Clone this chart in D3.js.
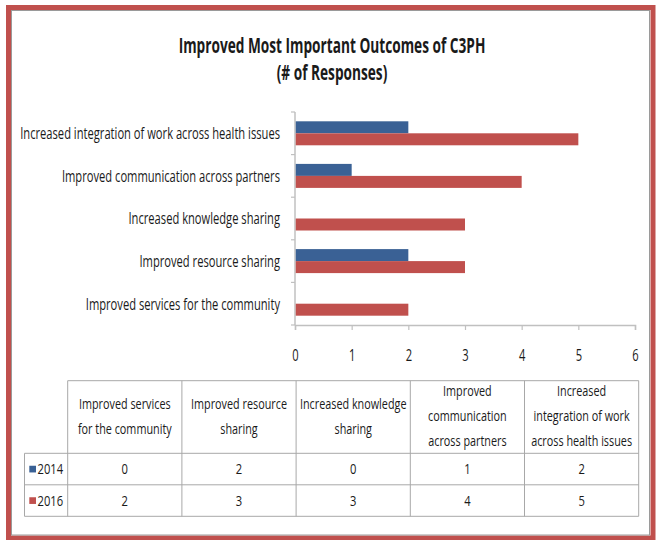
<!DOCTYPE html>
<html><head><meta charset="utf-8">
<script src="https://cdn.jsdelivr.net/npm/d3@7"></script>
<style>
html,body{margin:0;padding:0;background:#fff;}
svg{display:block;}
text{font-family:"Open Sans","Noto Sans",sans-serif;fill:#1a1a1a;font-weight:500;}
text.title{font-weight:700;}
</style></head>
<body>
<svg id="c" width="656" height="540"></svg>
<script>
// ---- data ----
const categories = ["Improved services for the community","Improved resource sharing","Increased knowledge sharing","Improved communication across partners","Increased integration of work across health issues"];
const seriesNames = ["2014","2016"];
const values2014 = [0,2,0,1,2];
const values2016 = [2,3,3,4,5];
const xTicks = [0,1,2,3,4,5,6];
const titleLines = ["Improved Most Important Outcomes of C3PH","(# of Responses)"];
const tableHeaders = [["Improved services","for the community"],["Improved resource","sharing"],["Increased knowledge","sharing"],["Improved","communication","across partners"],["Increased","integration of work","across health issues"]];
const colors = {"2014":"#3a6195","2016":"#c0504d"};

const svg = d3.select("#c");

// frame
svg.append("rect").attr("x",0).attr("y",0).attr("width",656).attr("height",540).attr("fill","#fff");
svg.append("rect").attr("x",8.5).attr("y",7.5).attr("width",644.5).attr("height",530.5)
  .attr("fill","none").attr("stroke","#c0504d").attr("stroke-width",5);
svg.append("rect").attr("x",11.5).attr("y",10.5).attr("width",638).attr("height",524.5)
  .attr("fill","none").attr("stroke","#9a9a9a").attr("stroke-width",1);

// horizontal condensing helper: keeps glyph height, narrows width by factor f
function squeeze(sel, f){
  sel.each(function(){
    const t = d3.select(this);
    const x = +t.attr("x") || 0, y = +t.attr("y") || 0;
    t.attr("x",0).attr("y",0).attr("transform",`translate(${x},${y}) scale(${f},1)`);
  });
}
function factorFor(node, target){ return target/node.getComputedTextLength(); }

// title
const titleSize = 20.5;
const t1 = svg.append("text").attr("class","title").attr("x",332).attr("y",52.5).attr("text-anchor","middle").style("font-size",titleSize+"px").text(titleLines[0]);
const t2 = svg.append("text").attr("class","title").attr("x",332).attr("y",79.5).attr("text-anchor","middle").style("font-size",titleSize+"px").text(titleLines[1]);
const tf = factorFor(t1.node(), 307);
squeeze(t1, tf); squeeze(t2, tf);

// scales
const x = d3.scaleLinear().domain([0,6]).range([295,635]);
const y0 = d3.scaleBand().domain(categories.slice().reverse()).range([112,325]).padding(0);
const y1 = d3.scaleBand().domain(seriesNames).range([0,y0.bandwidth()]).paddingInner(0).paddingOuter(0.775);

const rows = categories.map((c,i)=>({cat:c, vals:[{s:"2014",v:values2014[i]},{s:"2016",v:values2016[i]}]}));

const axisColor = "#c0c0c0";
svg.append("line").attr("x1",x(0)).attr("x2",x(0)).attr("y1",y0.range()[0]).attr("y2",y0.range()[1]).attr("stroke",axisColor).attr("stroke-width",1.5);
const bandEdges = y0.domain().map(d=>y0(d)).concat([y0.range()[1]]);
svg.selectAll(".yt").data(bandEdges).join("line").attr("x1",x(0)-4).attr("x2",x(0)).attr("y1",d=>d).attr("y2",d=>d).attr("stroke",axisColor).attr("stroke-width",1.2);

// bars
const g = svg.selectAll(".grp").data(rows).join("g").attr("transform",d=>`translate(0,${y0(d.cat)})`);
g.selectAll("rect").data(d=>d.vals.filter(v=>v.v>0)).join("rect")
  .attr("x",x(0)+0.75).attr("y",d=>y1(d.s)).attr("width",d=>x(d.v)-x(0)-0.75).attr("height",y1.bandwidth())
  .attr("fill",d=>colors[d.s]);

// category labels
const labelSize = 16.5;
const labels = svg.selectAll(".lab").data(categories).join("text").attr("class","lab")
  .attr("x",280).attr("y",d=>y0(d)+y0.bandwidth()/2).attr("dy","0.36em").attr("text-anchor","end")
  .style("font-size",labelSize+"px").text(d=>d);
const lf = factorFor(labels.filter((d,i)=>i===4).node(), 260);
squeeze(labels, lf);

// x axis
const xAxis = d3.axisBottom(x).tickValues(xTicks).tickSize(5).tickFormat(d3.format("d"));
const xg = svg.append("g").attr("transform",`translate(0,${y0.range()[1]})`).call(xAxis);
xg.select(".domain").attr("stroke",axisColor).attr("stroke-width",1.5);
xg.selectAll(".tick line").attr("stroke",axisColor).attr("stroke-width",1.2);
const tickText = xg.selectAll(".tick text").attr("dy",0).attr("y",36).style("font-size","16.5px").style("font-family",null).attr("fill","#1a1a1a");
squeeze(tickText, lf);

// data table
const colX = d3.scaleBand().domain(categories).range([67.7,638.7]);
const rowTop = 380.7, headBottom = 453.3, rowH = 31.5;
const tableColor = "#a8a8a8";
const tbl = svg.append("g");
tbl.append("line").attr("x1",colX.range()[0]).attr("x2",colX.range()[1]).attr("y1",rowTop).attr("y2",rowTop).attr("stroke",tableColor);
[0,1,2].forEach(i=>{
  tbl.append("line").attr("x1",24.5).attr("x2",colX.range()[1]).attr("y1",headBottom+i*rowH).attr("y2",headBottom+i*rowH).attr("stroke",tableColor);
});
tbl.append("line").attr("x1",24.5).attr("x2",24.5).attr("y1",headBottom).attr("y2",headBottom+2*rowH).attr("stroke",tableColor);
categories.forEach(c=>{
  tbl.append("line").attr("x1",colX(c)).attr("x2",colX(c)).attr("y1",rowTop).attr("y2",headBottom+2*rowH).attr("stroke",tableColor);
});
tbl.append("line").attr("x1",colX.range()[1]).attr("x2",colX.range()[1]).attr("y1",rowTop).attr("y2",headBottom+2*rowH).attr("stroke",tableColor);

// header text
const hdrSize = 14.5;
const lineH = 25;
const hcenter = (rowTop+headBottom)/2;
const hdrTexts = [];
categories.forEach((c,i)=>{
  const lines = tableHeaders[i];
  const start = hcenter - (lines.length-1)*lineH/2;
  lines.forEach((ln,j)=>{
    hdrTexts.push(tbl.append("text").attr("x",colX(c)+colX.bandwidth()/2).attr("y",start+j*lineH).attr("dy","0.3em")
      .attr("text-anchor","middle").style("font-size",hdrSize+"px").text(ln).node());
  });
});
const hsel = d3.selectAll(hdrTexts);
const hf = factorFor(hdrTexts[hdrTexts.length-1], 101);
squeeze(hsel, hf);

// rows
const seriesVals = [values2014, values2016];
const cellTexts = [];
seriesNames.forEach((s,r)=>{
  const cy = headBottom + r*rowH + rowH/2;
  tbl.append("rect").attr("x",29.3).attr("y",cy-3.3).attr("width",6.7).attr("height",6.7).attr("fill",colors[s]);
  cellTexts.push(tbl.append("text").attr("x",37.5).attr("y",cy).attr("dy","0.36em").style("font-size","15px").text(s).node());
  categories.forEach((c,i)=>{
    cellTexts.push(tbl.append("text").attr("x",colX(c)+colX.bandwidth()/2).attr("y",cy).attr("dy","0.36em")
      .attr("text-anchor","middle").style("font-size","15px").text(seriesVals[r][i]).node());
  });
});
squeeze(d3.selectAll(cellTexts), hf);
</script>
</body></html>
